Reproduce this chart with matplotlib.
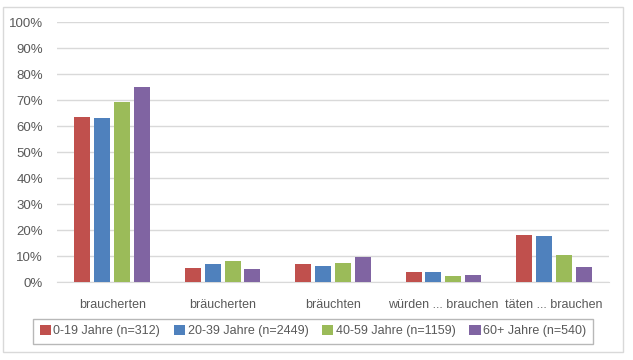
import numpy as np
import matplotlib.pyplot as plt
from matplotlib.patches import Rectangle
from matplotlib.ticker import PercentFormatter

plt.rcParams['font.family'] = ['Liberation Sans', 'DejaVu Sans']

# Data
categories = ['braucherten', 'bräucherten', 'bräuchten', 'würden ... brauchen', 'täten ... brauchen']
series_names = ['0-19 Jahre (n=312)', '20-39 Jahre (n=2449)', '40-59 Jahre (n=1159)', '60+ Jahre (n=540)']
age_0_19 = [0.637, 0.054, 0.069, 0.038, 0.183]
age_20_39 = [0.632, 0.070, 0.063, 0.041, 0.177]
age_40_59 = [0.695, 0.082, 0.074, 0.024, 0.106]
age_60 = [0.750, 0.050, 0.096, 0.028, 0.059]
colors = ['#C0504D', '#4F81BD', '#9BBB59', '#8064A2']

values = [age_0_19, age_20_39, age_40_59, age_60]

fig = plt.figure(figsize=(6.33, 3.6), dpi=100)
# outer chart border
fig.patches.append(Rectangle((3 / 633, 1 - 352 / 360), 620 / 633, 345 / 360,
                             transform=fig.transFigure, fill=False,
                             edgecolor='#D9D9D9', linewidth=1))

ax = fig.add_axes([57 / 633, 1 - 282.3 / 360, 552 / 633, 260 / 360])

x = np.arange(len(categories))
width = 0.145
step = 0.18
for i, (vals, name, col) in enumerate(zip(values, series_names, colors)):
    ax.bar(x + (i - 1.5) * step, vals, width, color=col, label=name, zorder=3)

ax.set_xlim(-0.5, len(categories) - 0.5)
ax.set_ylim(0, 1)
ax.set_yticks(np.arange(0, 1.01, 0.1))
ax.yaxis.set_major_formatter(PercentFormatter(1.0, decimals=0))
ax.set_xticks(x)
ax.set_xticklabels(categories)
ax.grid(axis='y', color='#D9D9D9', linewidth=1, zorder=0)
for s in ['top', 'right', 'left']:
    ax.spines[s].set_visible(False)
ax.spines['bottom'].set_color('#D9D9D9')
ax.tick_params(axis='both', length=0, labelsize=9.5, colors='#595959', pad=10)
ax.tick_params(axis='x', labelsize=9, pad=12)

leg = fig.legend(loc='center', bbox_to_anchor=(313 / 633, 1 - 331 / 360), ncol=4,
                 fontsize=9, frameon=True, fancybox=False, edgecolor='#A6A6A6',
                 handlelength=0.9, handleheight=0.9, handletextpad=0.2,
                 columnspacing=1.1, borderpad=0.5, labelcolor='#595959')
leg.get_frame().set_linewidth(1)

fig.savefig('out.png', dpi=100)
